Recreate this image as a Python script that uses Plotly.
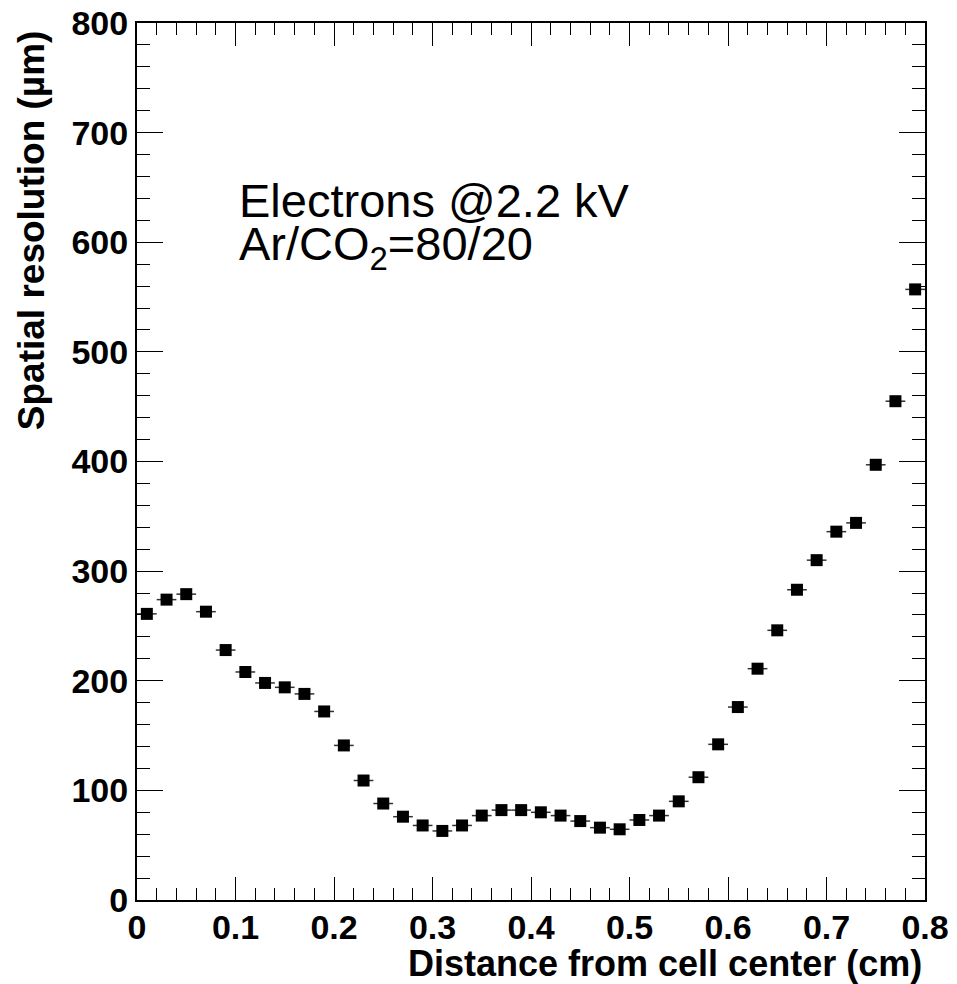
import plotly.graph_objects as go

# Data
distance_cm = [0.01, 0.03, 0.05, 0.07, 0.09, 0.11, 0.13, 0.15, 0.17, 0.19,
               0.21, 0.23, 0.25, 0.27, 0.29, 0.31, 0.33, 0.35, 0.37, 0.39,
               0.41, 0.43, 0.45, 0.47, 0.49, 0.51, 0.53, 0.55, 0.57, 0.59,
               0.61, 0.63, 0.65, 0.67, 0.69, 0.71, 0.73, 0.75, 0.77, 0.79]
resolution_um = [261, 274, 279, 263, 228, 208, 198, 194, 188, 172,
                 141, 109, 88, 76, 68, 63, 68, 77, 82, 82,
                 80, 77, 72, 66, 64.5, 73, 77, 90, 112, 142,
                 176, 211, 246, 283, 310, 336, 344, 397, 455, 557]
bin_half_width = [0.01] * len(distance_cm)

x_tick_vals = [0, 0.1, 0.2, 0.3, 0.4, 0.5, 0.6, 0.7, 0.8]
x_tick_text = ["0", "0.1", "0.2", "0.3", "0.4", "0.5", "0.6", "0.7", "0.8"]
y_tick_vals = [0, 100, 200, 300, 400, 500, 600, 700, 800]
y_tick_text = ["0", "100", "200", "300", "400", "500", "600", "700", "800"]

FONT = "Liberation Sans, Arial, Helvetica, sans-serif"

fig = go.Figure()
fig.add_trace(go.Scatter(
    x=distance_cm, y=resolution_um, mode="markers",
    marker=dict(symbol="square", size=12, color="black"),
    error_x=dict(type="data", array=bin_half_width, color="#333333",
                 thickness=1.5, width=0),
    showlegend=False, hoverinfo="x+y",
))

axis_common = dict(
    showgrid=False, zeroline=False, showline=True, linecolor="black",
    linewidth=2, mirror="allticks", ticks="inside", tickcolor="black",
    tickwidth=1, automargin=False,
    tickfont=dict(family=FONT, size=34, color="black", weight="bold"),
)

fig.update_xaxes(range=[0, 0.8], tickvals=x_tick_vals, ticktext=x_tick_text,
                 ticklen=23, ticklabelstandoff=-4,
                 minor=dict(dtick=0.02, ticks="inside", ticklen=12,
                            tickcolor="black", tickwidth=1),
                 **axis_common)
fig.update_yaxes(range=[0, 800], tickvals=y_tick_vals, ticktext=y_tick_text,
                 ticklen=26,
                 minor=dict(dtick=20, ticks="inside", ticklen=13,
                            tickcolor="black", tickwidth=1),
                 **axis_common)

fig.update_layout(
    width=957, height=984,
    margin=dict(l=137, r=32, t=23, b=84),
    paper_bgcolor="white", plot_bgcolor="white",
    font=dict(family=FONT, color="black"),
    annotations=[
        dict(text="Distance from cell center (cm)", xref="paper", yref="paper",
             x=0.999, y=-0.072, xanchor="right", yanchor="middle",
             showarrow=False,
             font=dict(family=FONT, size=36, color="black", weight="bold")),
        dict(text="Spatial resolution (µm)", xref="paper", yref="paper",
             x=-0.133, y=0.764, xanchor="center", yanchor="middle",
             textangle=-90, showarrow=False,
             font=dict(family=FONT, size=37, color="black", weight="bold")),
        dict(text="Electrons @2.2 kV", xref="paper", yref="paper",
             x=0.1269, y=0.798, xanchor="left", yanchor="middle",
             showarrow=False,
             font=dict(family=FONT, size=47, color="black")),
        dict(text="Ar/CO<sub>2</sub>=80/20", xref="paper", yref="paper",
             x=0.1269, y=0.745, xanchor="left", yanchor="middle",
             showarrow=False,
             font=dict(family=FONT, size=47, color="black")),
    ],
)

fig.write_html("out.html")
